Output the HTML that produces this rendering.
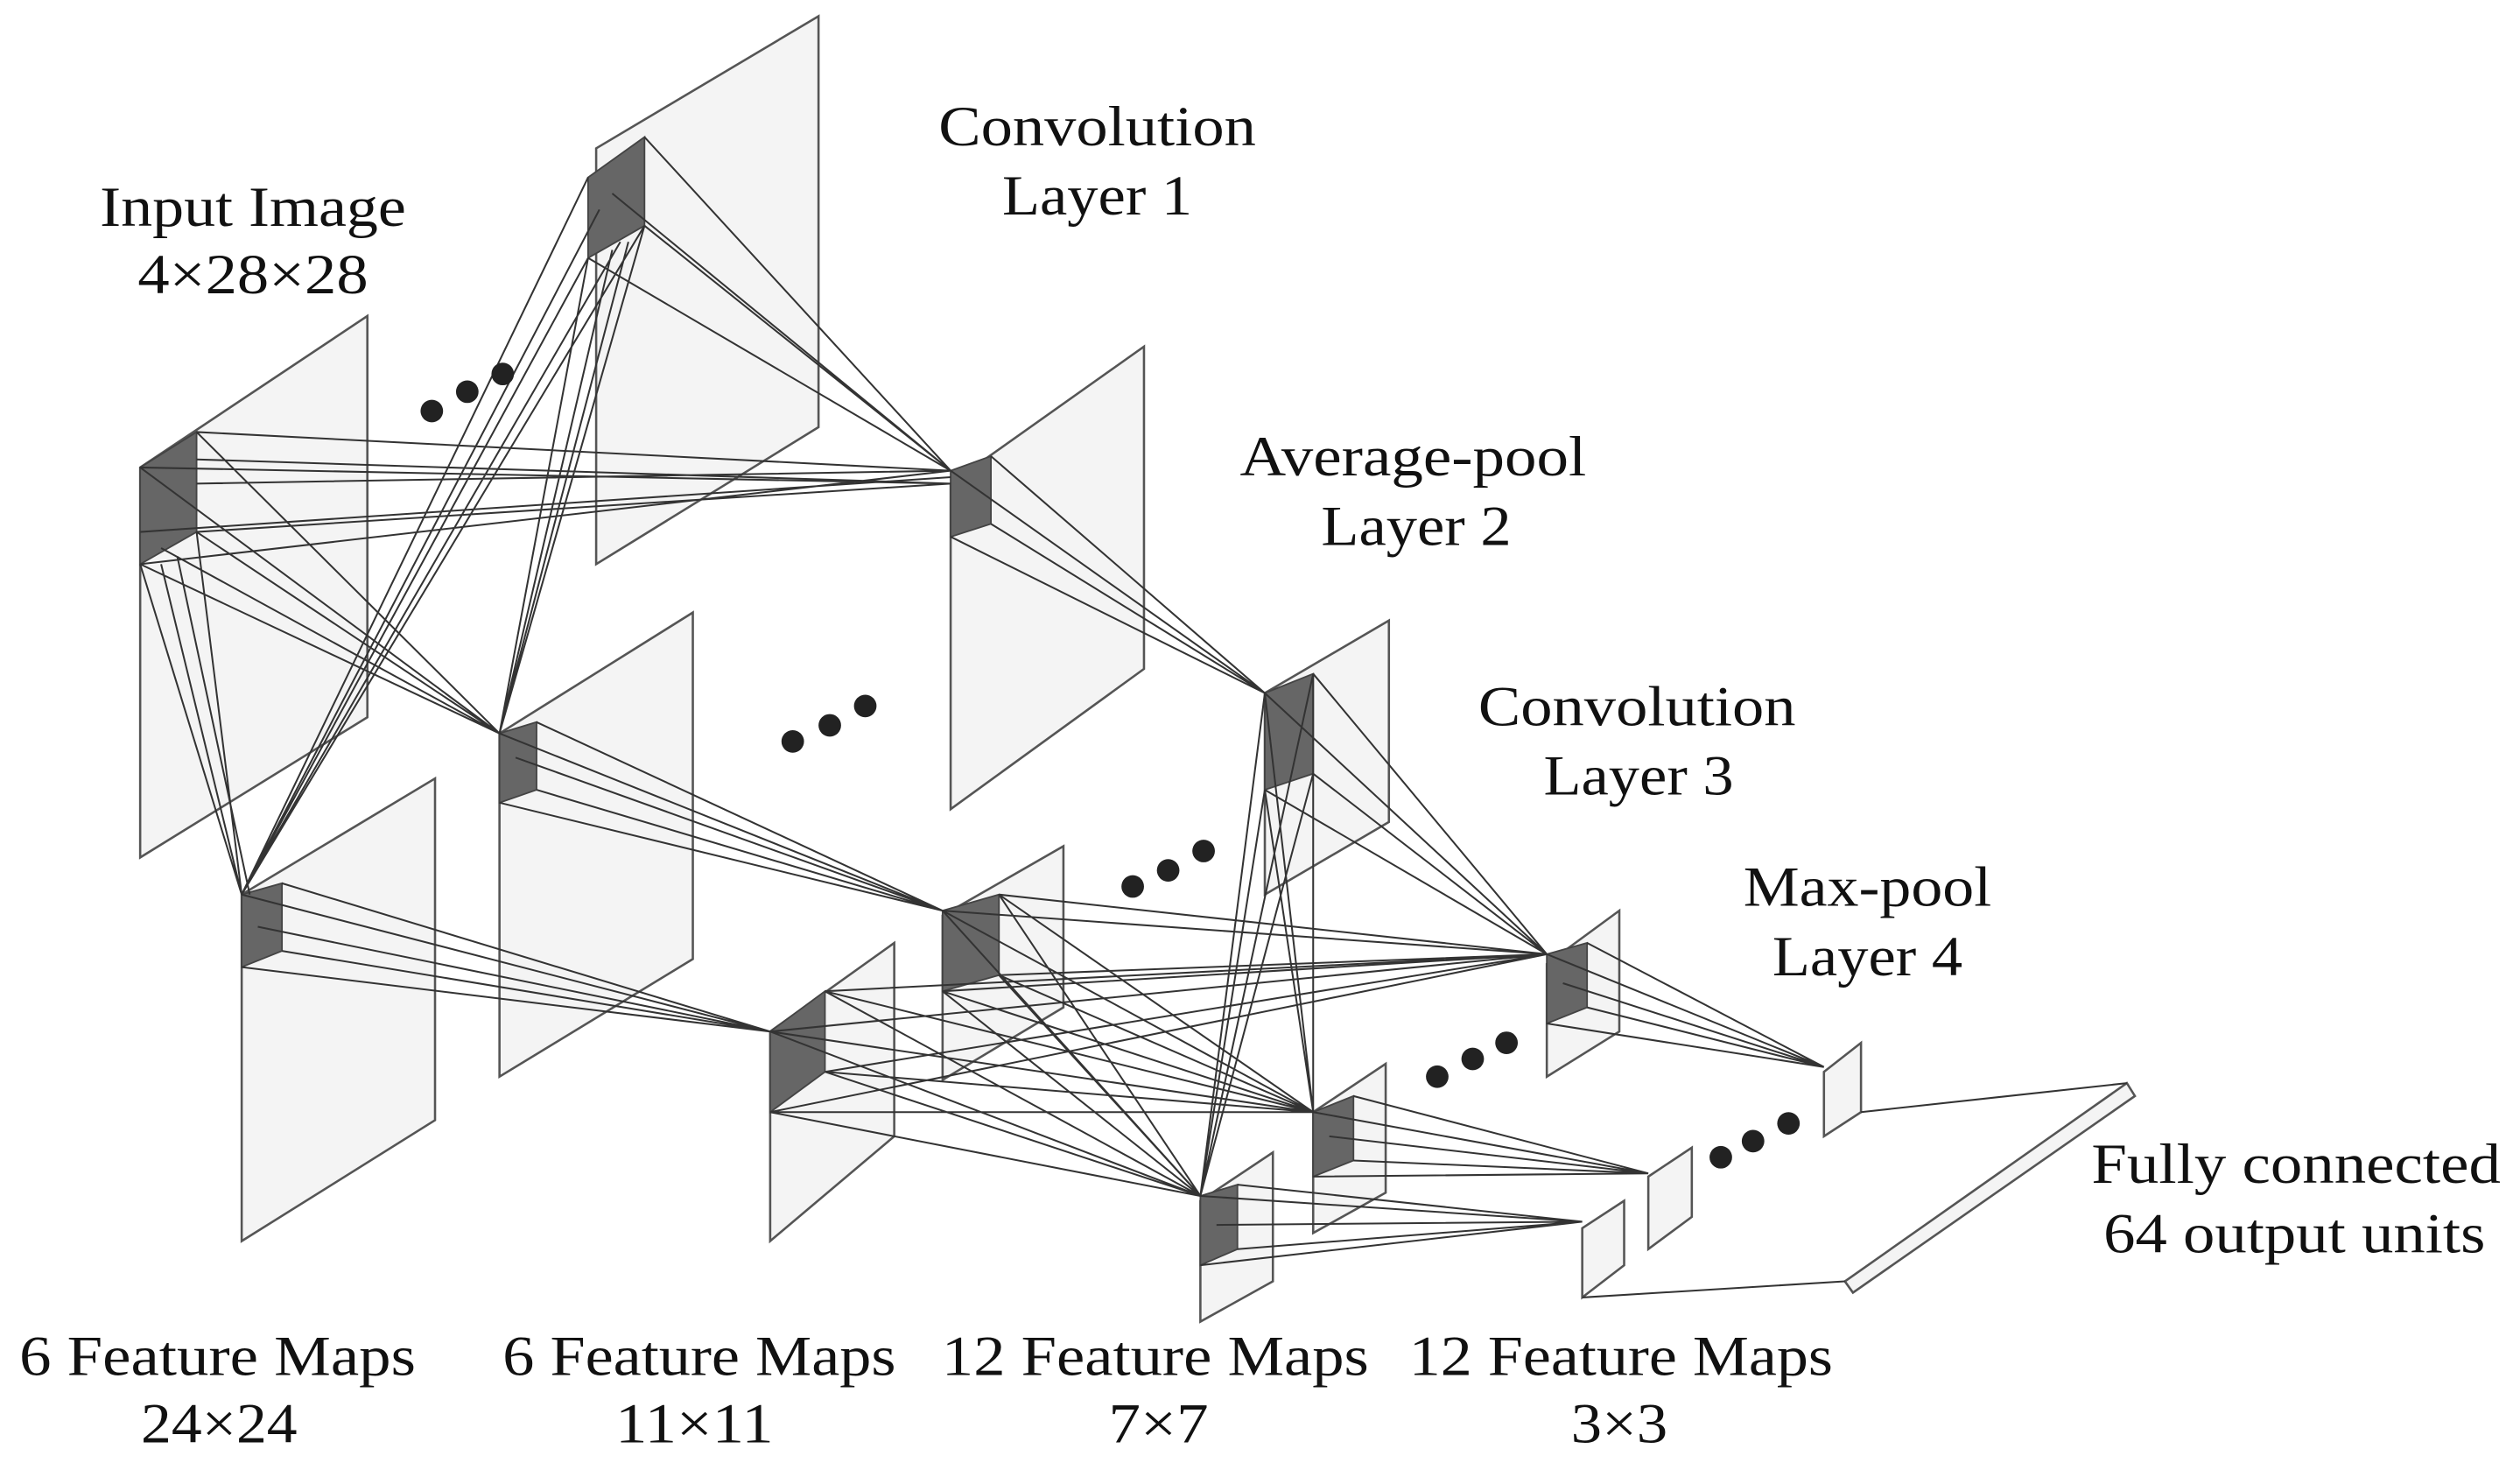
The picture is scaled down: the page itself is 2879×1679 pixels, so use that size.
<!DOCTYPE html>
<html><head><meta charset="utf-8"><style>
html,body{margin:0;padding:0;background:#fff;}
svg{display:block;}
text{font-family:"Liberation Serif",serif;font-size:35px;fill:#111;text-anchor:middle;}
</style></head><body>
<svg width="2879" height="1679" viewBox="0 0 1564 912" xmlns="http://www.w3.org/2000/svg">
<g fill="#f4f4f4" stroke="#555" stroke-width="1.4">
<polygon points="87,290 228,196 228,445 87,532"/>
<polygon points="370,92 508,10 508,265 370,350"/>
<polygon points="150,555 270,483 270,695 150,770"/>
<polygon points="310,455 430,380 430,595 310,668"/>
<polygon points="590,300 710,215 710,415 590,502"/>
<polygon points="478,640 555,585 555,705 478,770"/>
<polygon points="785,430 862,385 862,510 785,555"/>
<polygon points="585,568 660,525 660,625 585,670"/>
<polygon points="960,598 1005,565 1005,640 960,668"/>
<polygon points="815,690 860,660 860,740 815,765"/>
<polygon points="745,745 790,715 790,795 745,820"/>
<polygon points="1132,665 1155,647 1155,690 1132,705"/>
<polygon points="1023,730 1050,712 1050,755 1023,775"/>
<polygon points="982,762 1008,745 1008,785 982,805"/>
<polygon points="1145,795 1320,672 1325,680 1150,802"/>
</g>
<g fill="#666" stroke="#444" stroke-width="1">
<polygon points="87,290 122,268 122,330 87,350"/>
<polygon points="365,110 400,85 400,140 365,160"/>
<polygon points="150,555 175,548 175,590 150,600"/>
<polygon points="310,455 333,448 333,490 310,498"/>
<polygon points="590,292 615,283 615,325 590,333"/>
<polygon points="478,640 512,615 512,665 478,690"/>
<polygon points="785,430 815,418 815,480 785,490"/>
<polygon points="585,565 620,555 620,605 585,615"/>
<polygon points="960,592 985,585 985,625 960,635"/>
<polygon points="815,690 840,680 840,720 815,730"/>
<polygon points="745,742 768,735 768,775 745,785"/>
</g>
<g stroke="#333" stroke-width="1.1" fill="none">
<path d="M122,268L590,292M122,300L590,292M87,290L590,300M87,330L590,296M122,330L590,300M87,350L590,292M122,285L590,300
M87,290L310,455M122,268L310,455M87,350L310,455M122,330L310,455M100,340L310,455
M87,350L150,555M100,350L150,555M122,330L150,555M110,345L155,555
M365,110L150,555M365,160L150,555M400,140L150,555M385,150L150,555M372,130L150,555
M365,160L310,455M380,155L310,455M400,140L310,455M390,150L310,455
M400,85L590,292M400,140L590,292M365,160L590,292M380,120L590,292
M590,292L785,430M590,333L785,430M615,283L785,430M615,325L785,430
M310,455L585,565M310,498L585,565M333,448L585,565M333,490L585,565M320,470L585,565
M150,555L478,640M150,600L478,640M175,548L478,640M175,590L478,640M160,575L478,640
M785,430L960,592M785,490L960,592M815,418L960,592M815,480L960,592
M785,430L815,690M785,490L815,690M815,418L815,690M815,480L815,690
M785,430L745,742M785,490L745,742M815,418L745,742M815,480L745,742
M585,565L960,592M585,615L960,592M620,555L960,592M620,605L960,592
M585,565L815,690M585,615L815,690M620,555L815,690M620,605L815,690
M585,565L745,742M585,615L745,742M620,555L745,742M620,605L745,742
M478,640L960,592M478,690L960,592M512,615L960,592M512,665L960,592
M478,640L815,690M478,690L815,690M512,615L815,690M512,665L815,690
M478,640L745,742M478,690L745,742M512,615L745,742M512,665L745,742
M960,592L1132,662M960,635L1132,662M985,585L1132,662M985,625L1132,662M970,610L1132,662
M815,690L1023,728M815,730L1023,728M840,680L1023,728M840,720L1023,728M825,705L1023,728
M745,742L982,758M745,785L982,758M768,735L982,758M768,775L982,758M755,760L982,758
M1155,690L1320,672M982,805L1145,795"/>
</g>
<g fill="#222">
<circle cx="268" cy="255" r="7"/><circle cx="290" cy="243" r="7"/><circle cx="312" cy="232" r="7"/>
<circle cx="492" cy="460" r="7"/><circle cx="515" cy="450" r="7"/><circle cx="537" cy="438" r="7"/>
<circle cx="703" cy="550" r="7"/><circle cx="725" cy="540" r="7"/><circle cx="747" cy="528" r="7"/>
<circle cx="892" cy="668" r="7"/><circle cx="914" cy="657" r="7"/><circle cx="935" cy="647" r="7"/>
<circle cx="1068" cy="718" r="7"/><circle cx="1088" cy="708" r="7"/><circle cx="1110" cy="697" r="7"/>
</g>
<g lengthAdjust="spacingAndGlyphs">
<text x="157" y="140" textLength="190" lengthAdjust="spacingAndGlyphs">Input Image</text>
<text x="157" y="182" textLength="143" lengthAdjust="spacingAndGlyphs">4×28×28</text>
<text x="681" y="90" textLength="197" lengthAdjust="spacingAndGlyphs">Convolution</text>
<text x="681" y="133" textLength="118" lengthAdjust="spacingAndGlyphs">Layer 1</text>
<text x="877" y="295" textLength="215" lengthAdjust="spacingAndGlyphs">Average-pool</text>
<text x="879" y="338" textLength="118" lengthAdjust="spacingAndGlyphs">Layer 2</text>
<text x="1016" y="450" textLength="197" lengthAdjust="spacingAndGlyphs">Convolution</text>
<text x="1017" y="493" textLength="118" lengthAdjust="spacingAndGlyphs">Layer 3</text>
<text x="1159" y="562" textLength="154" lengthAdjust="spacingAndGlyphs">Max-pool</text>
<text x="1159" y="605" textLength="118" lengthAdjust="spacingAndGlyphs">Layer 4</text>
<text x="1425" y="734" textLength="254" lengthAdjust="spacingAndGlyphs">Fully connected</text>
<text x="1424" y="777" textLength="237" lengthAdjust="spacingAndGlyphs">64 output units</text>
<text x="135" y="853" textLength="246" lengthAdjust="spacingAndGlyphs">6 Feature Maps</text>
<text x="136" y="895" textLength="97" lengthAdjust="spacingAndGlyphs">24×24</text>
<text x="434" y="853" textLength="244" lengthAdjust="spacingAndGlyphs">6 Feature Maps</text>
<text x="431" y="895" textLength="98" lengthAdjust="spacingAndGlyphs">11×11</text>
<text x="717" y="853" textLength="265" lengthAdjust="spacingAndGlyphs">12 Feature Maps</text>
<text x="719" y="895" textLength="62" lengthAdjust="spacingAndGlyphs">7×7</text>
<text x="1006" y="853" textLength="263" lengthAdjust="spacingAndGlyphs">12 Feature Maps</text>
<text x="1005" y="895" textLength="60" lengthAdjust="spacingAndGlyphs">3×3</text>
</g>
</svg>
</body></html>
